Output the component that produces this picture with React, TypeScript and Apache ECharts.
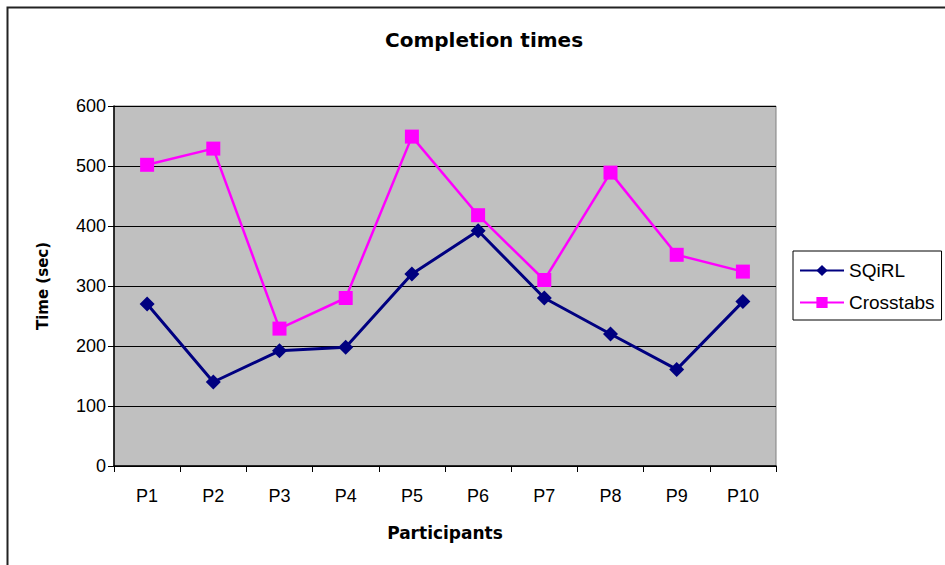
import React, { useEffect, useRef } from "react";
import * as echarts from "echarts";

const categories = ["P1", "P2", "P3", "P4", "P5", "P6", "P7", "P8", "P9", "P10"];
const sqirl = [270, 140, 192, 198, 320, 392, 280, 220, 161, 274];
const crosstabs = [502, 529, 229, 280, 549, 418, 310, 489, 352, 324];
const yTicks = { min: 0, max: 600, interval: 100 };

export default function App() {
  const ref = useRef<HTMLDivElement>(null);
  useEffect(() => {
    document.body.style.margin = "0";
    const chart = echarts.init(ref.current!, undefined, { renderer: "svg" });
    const font = "Liberation Sans, Arial, sans-serif";
    const boldFont = "DejaVu Sans, Verdana, sans-serif";
    chart.setOption({
      animation: false,
      backgroundColor: "#ffffff",
      title: {
        text: "Completion times",
        left: 479,
        top: 25,
        textAlign: "center",
        textStyle: { fontFamily: boldFont, fontSize: 20, fontWeight: "bold", color: "#000" },
      },
      graphic: [
        {
          type: "rect",
          shape: { x: 7.5, y: 7.5, width: 960, height: 580 },
          style: { fill: "none", stroke: "#222", lineWidth: 2 },
          silent: true,
        },
      ],
      legend: {
        orient: "vertical",
        left: 793,
        top: 251,
        width: 150,
        itemWidth: 44,
        itemHeight: 14,
        itemGap: 13,
        itemStyle: { borderWidth: 0 },
        padding: [10, 7, 8, 6],
        backgroundColor: "#ffffff",
        borderColor: "#000",
        borderWidth: 1,
        borderRadius: 0,
        textStyle: { fontFamily: font, fontSize: 19, color: "#000" },
        data: ["SQiRL", "Crosstabs"],
      },
      grid: {
        left: 114,
        top: 106,
        width: 662,
        height: 360,
        show: true,
        backgroundColor: "#c0c0c0",
        borderColor: "#808080",
        borderWidth: 1,
      },
      xAxis: {
        type: "category",
        data: categories,
        boundaryGap: true,
        name: "Participants",
        nameLocation: "middle",
        nameGap: 58,
        nameTextStyle: { fontFamily: boldFont, fontSize: 17, fontWeight: "bold", color: "#000" },
        axisLine: { lineStyle: { color: "#000", width: 1.5 } },
        axisTick: { show: true, inside: false, length: 6, alignWithLabel: false, lineStyle: { color: "#000" } },
        axisLabel: { fontFamily: font, fontSize: 18, color: "#000", margin: 21 },
        splitLine: { show: false },
      },
      yAxis: {
        type: "value",
        min: yTicks.min,
        max: yTicks.max,
        interval: yTicks.interval,
        name: "Time (sec)",
        nameLocation: "middle",
        nameGap: 64,
        nameRotate: 90,
        nameTextStyle: { fontFamily: boldFont, fontSize: 15, fontWeight: "bold", color: "#000" },
        axisLine: { show: true, lineStyle: { color: "#000", width: 1.5 } },
        axisTick: { show: true, inside: false, length: 6, lineStyle: { color: "#000" } },
        axisLabel: { fontFamily: font, fontSize: 18, color: "#000", margin: 8 },
        splitLine: { show: true, lineStyle: { color: "#000", width: 1.2 } },
      },
      series: [
        {
          name: "SQiRL",
          type: "line",
          data: sqirl,
          symbol: "diamond",
          symbolSize: 15,
          itemStyle: { color: "#000080" },
          lineStyle: { color: "#000080", width: 3 },
        },
        {
          name: "Crosstabs",
          type: "line",
          data: crosstabs,
          symbol: "rect",
          symbolSize: 14,
          itemStyle: { color: "#ff00ff" },
          lineStyle: { color: "#ff00ff", width: 2.5 },
        },
      ],
    });
    return () => chart.dispose();
  }, []);
  return <div ref={ref} style={{ width: 945, height: 565 }} />;
}
